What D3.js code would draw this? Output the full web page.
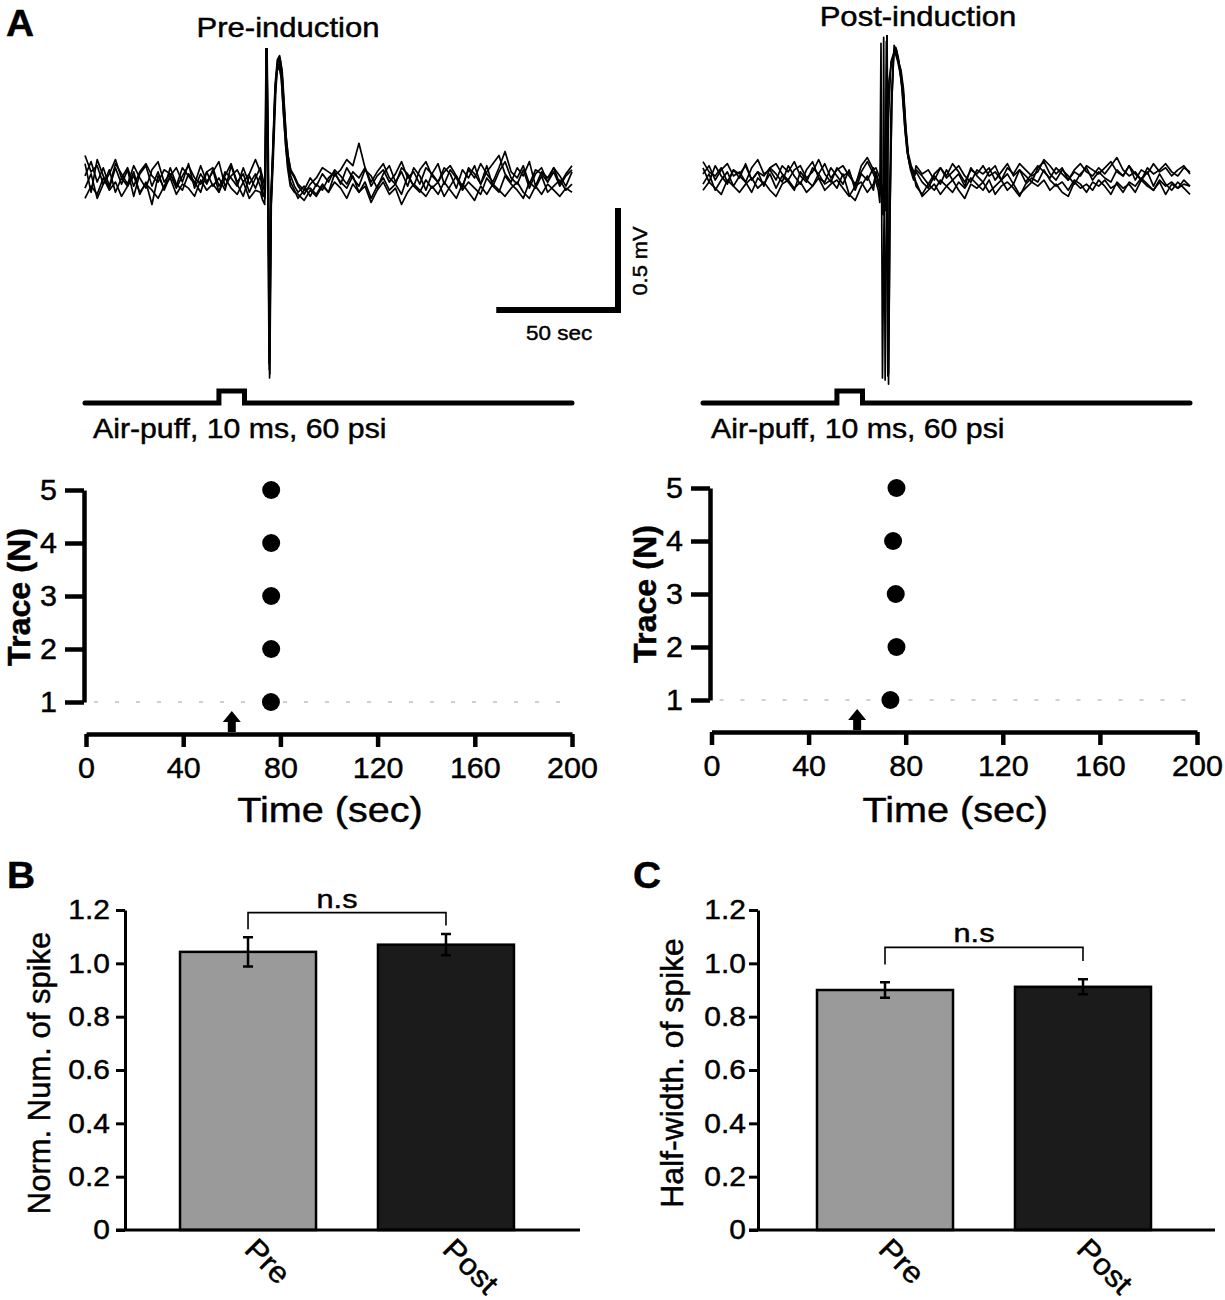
<!DOCTYPE html>
<html>
<head>
<meta charset="utf-8">
<script src="https://cdn.jsdelivr.net/npm/d3@7"></script>
<style>
  body { margin: 0; background: #fff; }
  svg { display: block; }
  text { fill: #000; stroke: #000; stroke-width: 0.45px; }
</style>
</head>
<body>
<svg id="fig" width="1225" height="1300"></svg>
<script>
// ---- trace data (values in 0.01 mV) ----
// baseline samples every 2.5 s: before = 0..70 s, after = 87.5..200 s
const STEP = 2.5;
const AFTER_T0 = 87.5;

const preBefore = [
  [8,-6,10,2,-4,6,-2,5,-8,3,7,-3,4,-5,2,6,-1,8,-4,3,-2,5,-6,4,1,-3,6,-2,3],
  [-4,3,-9,-2,5,-6,1,-3,4,-7,-1,-12,2,-4,6,-2,-5,3,-1,-6,4,-3,1,-5,7,-2,-8,2,-4],
  [2,9,-1,6,-3,8,3,-2,7,1,-4,5,9,-1,3,-3,6,2,-2,7,-1,4,9,-3,2,5,-1,3,10],
  [-9,-3,-7,1,-5,-1,-8,-3,2,-6,-2,-5,-9,-3,1,-7,-2,-4,-8,0,-5,-2,-6,1,-4,-7,-1,-9,-5],
  [12,4,7,-2,3,10,1,6,-3,4,8,2,-1,5,3,-4,2,7,1,-2,4,6,-3,2,8,-1,3,-6,1]
];
const preSpike = [
  [[72,-3],[73,-8],[74,-5],[74.6,72],[75.2,8],[75.8,-97],[76.4,-14],[77.2,12],[78.2,46],[79,57],[80,59],[80.9,52],[81.8,34],[82.6,18],[83.4,9],[84.5,2],[86,-3]],
  [[72,2],[73,-6],[73.9,-9],[74.5,70],[75.1,5],[75.7,-93],[76.3,-10],[77.1,15],[78,44],[78.9,55],[79.8,57],[80.7,49],[81.6,31],[82.5,16],[83.3,7],[84.4,-1],[86,-5]],
  [[72,4],[73,-2],[74,-7],[74.7,71],[75.3,12],[75.9,-95],[76.5,-12],[77.3,10],[78.3,42],[79.1,58],[80.1,60],[81,53],[81.9,36],[82.7,20],[83.5,11],[84.6,4],[86,1]],
  [[72,-6],[73,-10],[73.8,-12],[74.4,69],[75,6],[75.6,-90],[76.2,-16],[77,9],[78,40],[78.8,53],[79.7,56],[80.6,50],[81.5,33],[82.4,17],[83.2,6],[84.3,-3],[86,-6]],
  [[72,6],[73,1],[74,-4],[74.6,73],[75.2,10],[75.8,-88],[76.4,-8],[77.2,14],[78.1,47],[79,59],[79.9,61],[80.8,54],[81.7,37],[82.6,21],[83.4,12],[84.5,5],[86,2]]
];
const preAfter = [
  [-6,-3,-8,-2,-5,1,4,-2,6,1,-3,5,2,-4,3,7,-1,4,-3,6,2,-5,3,8,-2,5,1,-4,6,3,-2,7,-3,4,9,1,-2,5,-4,3,6,-1,4,-3,2,5],
  [-9,-5,-4,-7,-2,-6,3,-1,-4,2,-6,-1,-9,-3,1,-5,-2,-7,2,-3,-6,0,-4,-1,-8,-3,2,-5,-1,-4,-7,1,-3,-6,2,-2,-5,-9,-1,-4,2,-6,-3,0,-5,-2],
  [-3,-7,-2,1,6,4,2,5,10,7,18,6,-1,4,8,1,-2,6,3,-3,5,9,2,-1,6,3,-4,5,1,7,-2,4,8,12,3,-1,6,2,9,-3,4,1,6,-2,3,7],
  [-7,-10,-5,-8,-3,-6,-1,-4,-9,-2,-6,-3,-11,-5,-1,-7,-4,-12,-6,-2,-5,-8,-3,-7,-1,-5,-9,-2,-6,-10,-3,-7,-2,-5,-8,-4,-1,-6,-9,-3,-7,-2,-5,-8,-4,-6],
  [-2,-5,1,-3,3,-1,5,2,-2,4,1,6,-3,2,5,-1,3,9,1,4,-2,6,3,-1,4,7,2,-3,5,1,8,3,-1,6,14,4,1,7,-2,5,3,-1,6,2,-3,4]
];

const postBefore = [
  [5,-2,6,1,-3,4,0,7,-1,3,-4,5,2,-2,6,1,-3,4,8,0,-2,5,1,-3,4,-6,2,-1,5],
  [-3,2,-6,-1,3,-4,1,-2,-7,0,-3,2,-5,1,-2,-6,3,-1,-4,2,-3,-1,-5,2,-8,-11,-4,1,-6],
  [2,6,-1,4,7,1,3,-2,5,9,2,4,-1,6,3,8,1,-2,5,2,7,0,4,6,1,-3,3,8,2],
  [-6,-2,-5,-8,-1,-4,-7,-3,0,-5,-2,-6,-9,-3,-1,-5,-2,-7,-4,0,-6,-3,-1,-5,-9,-4,-2,-7,-3],
  [8,3,1,5,-2,4,2,6,-1,3,1,5,7,2,-1,4,6,0,3,9,2,-2,5,1,3,-4,6,10,4]
];
const postSpike = [
  [[71,-2],[72,-6],[72.6,-12],[73.1,66],[73.7,-98],[74.3,-25],[75.2,20],[76.4,48],[77.6,58],[78.8,62],[80,57],[81.2,50],[82.4,40],[83.4,22],[84.4,10],[85.6,4],[86.8,1]],
  [[71,3],[72.5,-3],[74,-8],[75,-13],[75.6,70],[76.2,-101],[76.8,-18],[77.5,36],[78.4,63],[79.3,61],[80.2,58],[81.2,52],[82.2,43],[83.2,24],[84.2,11],[85.3,5],[86.5,2]],
  [[71,-1],[72.5,-5],[73.8,-10],[74.8,-16],[75.3,67],[75.9,-97],[76.5,-22],[77.2,33],[78.2,60],[79.2,64],[80.2,59],[81.1,51],[82,41],[83,23],[84,12],[85.2,4],[86.5,-1]],
  [[71,2],[72.3,-4],[73.4,-9],[73.9,-18],[74.2,69],[74.8,-99],[75.4,-19],[76.2,30],[77.2,57],[78.3,61],[79.4,63],[80.5,56],[81.6,45],[82.8,26],[83.8,13],[85,6],[86.4,2]],
  [[71,5],[72.6,0],[74,-6],[75,-11],[75.6,72],[76.2,-96],[76.8,-15],[77.6,40],[78.5,65],[79.4,62],[80.3,57],[81.3,53],[82.3,44],[83.3,25],[84.3,12],[85.5,6],[86.6,3]]
];
const postAfter = [
  [3,-2,-5,1,-3,4,-1,2,-4,5,1,-2,3,6,-1,2,-3,4,1,-2,5,8,2,-1,4,1,-3,2,5,-1,3,0,-2,4,1,6,2,-1,3,-4,2,-3,-6,-2,-5,-8],
  [-4,-8,-3,-6,-1,-4,-7,-2,-5,0,-3,-6,-1,-8,-4,-2,-5,-9,-3,0,-2,4,-1,-4,-2,-6,-1,-3,-7,-2,-4,-1,-5,-3,-7,-2,-4,0,-3,-6,-1,-4,-2,-5,-3,-4],
  [6,2,4,-1,5,1,7,3,-2,4,2,6,1,3,-1,5,2,7,4,1,3,9,6,2,5,-1,3,1,6,4,2,5,8,3,1,6,-1,4,2,7,3,5,1,4,6,2],
  [-2,-9,-6,-3,-8,-4,-1,-6,-10,-3,-5,-2,-7,-4,-1,-6,-3,-8,-5,-2,-4,-1,-6,-3,-7,-9,-2,-5,-3,-6,-1,-4,-8,-2,-5,-3,-7,-1,-4,-6,-2,-8,-3,-5,-1,-4],
  [4,1,-3,2,5,0,3,6,1,-2,4,2,5,-1,3,7,1,4,-2,2,6,3,0,5,2,-1,4,7,3,1,5,2,6,10,4,1,3,-1,5,2,4,7,3,1,5,3]
];

// air-puff command (0 = off, 1 = on)
const puff = [[0,0],[55,0],[55,1],[65.5,1],[65.5,0],[200,0]];

// ---- raster data: spike time (s) for trace 1..5 ----
const traceIds = [1, 2, 3, 4, 5];
const rasterPre = [76.1, 76.2, 76.2, 76.2, 76.2];
const rasterPost = [73.7, 76.2, 75.9, 74.8, 76.2];
const stimTime = 60;
const timeTicks = [0, 40, 80, 120, 160, 200];

// ---- bar data ----
const groups = ["Pre", "Post"];
const spikeNum = [1.043, 1.070];
const spikeNumErr = [0.055, 0.04];
const halfWidth = [0.900, 0.912];
const halfWidthErr = [0.029, 0.028];
const barTicks = [0, 0.2, 0.4, 0.6, 0.8, 1.0, 1.2];
const barColors = ["#9a9a9a", "#1b1b1b"];

const FONT = '"Liberation Sans", Arial, Helvetica, sans-serif';
const svg = d3.select('#fig');
svg.append('rect').attr('width', 1225).attr('height', 1300).attr('fill', '#fff');

function label(g, x, y, s, o = {}) {
  return g.append('text')
    .attr('transform', `translate(${x},${y}) rotate(${o.rot || 0}) scale(${o.sx || 1},1)`)
    .attr('text-anchor', o.anchor || 'start')
    .attr('font-family', FONT)
    .attr('font-size', (o.size || 20) + 'px')
    .attr('font-weight', o.bold ? 'bold' : 'normal')
    .text(s);
}

function buildTrace(before, spike, after) {
  return [
    ...before.map((v, i) => [i * STEP, v / 100]),
    ...spike.map(([t, v]) => [t, v / 100]),
    ...after.map((v, i) => [AFTER_T0 + i * STEP, v / 100])
  ];
}

// ---- panel A: traces ----
function drawTraces(c) {
  const x = d3.scaleLinear().domain([0, 200]).range([c.x0, c.x1]);
  const y = d3.scaleLinear().domain([0, 0.5]).range([c.base, c.base - 102]);
  const clipId = 'clip-' + c.id;
  svg.append('clipPath').attr('id', clipId)
    .append('rect').attr('x', c.x0 - 5).attr('y', c.clipTop)
    .attr('width', c.x1 - c.x0 + 10).attr('height', 400 - c.clipTop);

  const line = d3.line().x(d => x(d[0])).y(d => y(d[1]));
  const traces = c.before.map((b, i) => buildTrace(b, c.spike[i], c.after[i]));
  svg.append('g').attr('clip-path', `url(#${clipId})`)
    .selectAll('path').data(traces).enter().append('path')
    .attr('d', line)
    .attr('fill', 'none')
    .attr('stroke', '#000')
    .attr('stroke-width', 1.7)
    .attr('stroke-linejoin', 'round');

  const yp = d3.scaleLinear().domain([0, 1]).range([403, 391]);
  svg.append('path')
    .datum(puff)
    .attr('d', d3.line().x(d => x(d[0])).y(d => yp(d[1])))
    .attr('fill', 'none')
    .attr('stroke', '#000')
    .attr('stroke-width', 5)
    .attr('stroke-linecap', 'round');

  label(svg, c.x0 + 8, 438, 'Air-puff, 10 ms, 60 psi', {size: 27, sx: 1.12});
  label(svg, c.titleX, c.titleY, c.title, {size: 27, sx: 1.15, anchor: 'middle'});
  return {x, y};
}

const pre = drawTraces({id: 'pre', x0: 85, x1: 572, base: 180, clipTop: 48,
  before: preBefore, spike: preSpike, after: preAfter,
  title: 'Pre-induction', titleX: 288, titleY: 37});
drawTraces({id: 'post', x0: 703, x1: 1190, base: 178, clipTop: 35,
  before: postBefore, spike: postSpike, after: postAfter,
  title: 'Post-induction', titleX: 918, titleY: 26});

// scale bar (50 sec, 0.5 mV)
const sbX = 618, sbY = 310;
const sbW = pre.x(50) - pre.x(0);
const sbH = pre.y(0) - pre.y(0.5);
svg.append('path')
  .attr('d', `M${sbX - sbW},${sbY}H${sbX}V${sbY - sbH}`)
  .attr('fill', 'none').attr('stroke', '#000').attr('stroke-width', 6);
label(svg, sbX - sbW / 2 + 2, 340, '50 sec', {size: 21, sx: 1.07, anchor: 'middle'});
label(svg, 647, sbY - sbH / 2 + 2, '0.5 mV', {size: 21, sx: 1.04, anchor: 'middle', rot: -90});

label(svg, 6, 36, 'A', {size: 37, bold: true, sx: 1.05});

// ---- panel A: rasters ----
function drawRaster(c) {
  const x = d3.scaleLinear().domain([0, 200]).range([c.x0, c.x1]);
  const y = d3.scaleLinear().domain([1, 5]).range([c.y1, c.y5]);
  const g = svg.append('g');

  g.append('line')
    .attr('x1', x(0) + 8).attr('x2', x(200))
    .attr('y1', y(1)).attr('y2', y(1))
    .attr('stroke', '#cfcfcf').attr('stroke-width', 2)
    .attr('stroke-dasharray', '4,17');

  const ya = g.append('g').attr('transform', `translate(${c.yAxisX},0)`)
    .call(d3.axisLeft(y).tickValues(traceIds).tickSize(19).tickSizeOuter(0).tickPadding(8).tickFormat(d3.format('d')));
  const xa = g.append('g').attr('transform', `translate(0,${c.axisY})`)
    .call(d3.axisBottom(x).tickValues(timeTicks).tickSize(13).tickSizeOuter(0).tickPadding(10));
  [ya, xa].forEach(a => {
    a.attr('font-family', FONT).attr('font-size', null);
    a.select('.domain').attr('stroke-width', 4.5);
    a.selectAll('.tick line').attr('stroke-width', 4.5);
    a.selectAll('text').attr('font-size', '29px');
  });
  ya.selectAll('text').attr('x', -27 / 1.05).attr('transform', 'scale(1.05,1)');
  xa.selectAll('text').attr('transform', 'scale(1.05,1)');

  // stimulus arrow
  const ax = x(stimTime), ab = c.axisY - 2;
  g.append('path')
    .attr('d', `M${ax - 4},${ab}V${ab - 10}H${ax - 9}L${ax},${ab - 21}L${ax + 9},${ab - 10}H${ax + 4}V${ab}Z`)
    .attr('fill', '#000');

  g.selectAll('circle').data(c.times).enter().append('circle')
    .attr('cx', d => x(d))
    .attr('cy', (d, i) => y(traceIds[i]))
    .attr('r', 9)
    .attr('fill', '#000');

  label(g, c.ylabX, c.ylabY, 'Trace (N)', {size: 31, bold: true, sx: 1.04, rot: -90, anchor: 'middle'});
  label(g, (c.x0 + c.x1) / 2 + 1, 822, 'Time (sec)', {size: 36, sx: 1.1, anchor: 'middle'});
}

drawRaster({x0: 86, x1: 572, y1: 702, y5: 490, yAxisX: 84, axisY: 734,
  times: rasterPre, ylabX: 30, ylabY: 597});
drawRaster({x0: 711.5, x1: 1197, y1: 700, y5: 488, yAxisX: 710, axisY: 732,
  times: rasterPost, ylabX: 656, ylabY: 594});

// ---- panels B and C: bars ----
function drawBars(c) {
  const y = d3.scaleLinear().domain([0, 1.2]).range([1230, 910]);
  const x = d3.scaleBand().domain(groups).range([c.axisX, c.axisX + c.bandLen])
    .paddingInner(0.313).paddingOuter(c.po);
  const g = svg.append('g');

  g.selectAll('rect.bar').data(groups).enter().append('rect')
    .attr('class', 'bar')
    .attr('x', d => x(d))
    .attr('y', (d, i) => y(c.values[i]))
    .attr('width', x.bandwidth())
    .attr('height', (d, i) => y(0) - y(c.values[i]))
    .attr('fill', (d, i) => barColors[i])
    .attr('stroke', '#000')
    .attr('stroke-width', 2.5);

  const cx = d => x(d) + x.bandwidth() / 2;
  const err = g.selectAll('g.err').data(groups).enter().append('g').attr('class', 'err');
  err.append('path')
    .attr('d', (d, i) => {
      const lo = y(c.values[i] - c.errs[i]), hi = y(c.values[i] + c.errs[i]);
      return `M${cx(d)},${lo}V${hi}M${cx(d) - 5},${hi}H${cx(d) + 5}M${cx(d) - 5},${lo}H${cx(d) + 5}`;
    })
    .attr('fill', 'none').attr('stroke', '#000').attr('stroke-width', 2.5);

  const ya = g.append('g').attr('transform', `translate(${c.axisX},0)`)
    .call(d3.axisLeft(y).tickValues(barTicks).tickSize(9).tickSizeOuter(0).tickPadding(c.pad)
      .tickFormat(d => d === 0 ? '0' : d3.format('.1f')(d)));
  ya.attr('font-family', FONT).attr('font-size', null);
  ya.select('.domain').attr('stroke-width', 3);
  ya.selectAll('.tick line').attr('stroke-width', 3);
  ya.selectAll('text').attr('font-size', '28px')
    .attr('x', -(9 + c.pad) / 1.07).attr('transform', 'scale(1.07,1)');

  g.append('line')
    .attr('x1', c.axisX - 9).attr('x2', c.axisEnd)
    .attr('y1', y(0)).attr('y2', y(0))
    .attr('stroke', '#000').attr('stroke-width', 3);

  // significance bracket
  const [a, b] = groups.map(cx);
  g.append('path')
    .attr('d', `M${a},${y(c.br[1])}V${y(c.br[0])}H${b}V${y(c.br[2])}`)
    .attr('fill', 'none').attr('stroke', '#000').attr('stroke-width', 1.6);
  label(g, (a + b) / 2 - 10, y(c.br[0]) - 5, 'n.s', {size: 26, sx: 1.18, anchor: 'middle'});

  groups.forEach(d => {
    label(g, cx(d) - c.catDx, y(0) + 21, d, {size: 30, sx: 1.06, rot: 45});
  });

  label(g, c.ylabX, 1073, c.ylab, {size: 31, sx: c.ylabSx, rot: -90, anchor: 'middle'});
  label(g, c.letterX, 888, c.letter, {size: 37, bold: true, sx: 1.05});
}

drawBars({axisX: 125, bandLen: 444, po: 0.278, axisEnd: 580, pad: 6,
  values: spikeNum, errs: spikeNumErr, br: [1.19, 1.128, 1.142], catDx: 5,
  ylab: 'Norm. Num. of spike', ylabX: 50, ylabSx: 1.0, letter: 'B', letterX: 7});
drawBars({axisX: 758, bandLen: 452, po: 0.298, axisEnd: 1215, pad: 3,
  values: halfWidth, errs: halfWidthErr, br: [1.06, 0.996, 1.009], catDx: 8,
  ylab: 'Half-width. of spike', ylabX: 683, ylabSx: 1.03, letter: 'C', letterX: 633});
</script>
</body>
</html>
